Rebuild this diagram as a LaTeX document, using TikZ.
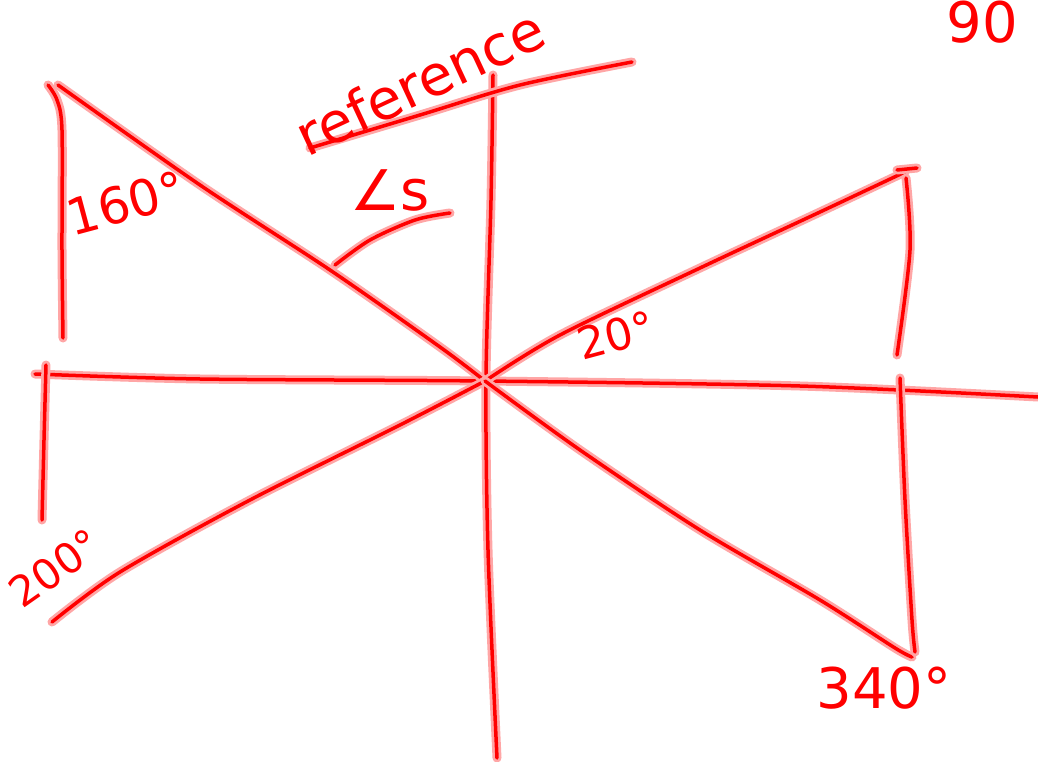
\documentclass[tikz,border=0pt]{standalone}
\usepackage{fontspec}
\setmainfont{DejaVu Sans}
\begin{document}
\begin{tikzpicture}[x=1pt,y=-1pt,
  pen/.style={draw=red, line width=3.5pt, line cap=round, line join=round,
    preaction={draw=red!35, line width=9pt, line cap=round, line join=round}},
  lbl/.style={text=red, inner sep=0pt},
]
\useasboundingbox[fill=white] (0,0) rectangle (1038,762);
\coordinate (O) at (485,381);
% axes
\draw[pen] plot[smooth] coordinates {(35,374) (200,379) (485,381) (800,386) (1038,397)};
\draw[pen] plot[smooth] coordinates {(493,75) (491,200) (486,378) (488,550) (497,758)};
% 160 ray and its drop
\draw[pen] plot[smooth] coordinates {(58,85) (200,185) (330,270) (440,347) (O)};
\draw[pen] plot[smooth] coordinates {(48,85) (57,100) (62,130) (62,250) (63,338)};
% 20 ray and its drop
\draw[pen] plot[smooth] coordinates {(O) (560,335) (700,268) (820,212) (905,172)};
\draw[pen] (897,170) -- (917,168);
\draw[pen] plot[smooth] coordinates {(906,178) (910,250) (897,355)};
% 200 ray and its drop
\draw[pen] plot[smooth] coordinates {(O) (400,425) (250,500) (120,572) (52,622)};
\draw[pen] plot[smooth] coordinates {(46,365) (44,440) (42,520)};
% 340 ray and its drop
\draw[pen] plot[smooth] coordinates {(O) (580,450) (700,530) (820,600) (895,648) (912,657)};
\draw[pen] plot[smooth] coordinates {(900,378) (905,500) (912,620) (915,652)};
% reference underline arcs
\draw[pen] plot[smooth] coordinates {(310,148) (420,115) (520,85) (632,62)};
\draw[pen] plot[smooth] coordinates {(335,265) (370,240) (415,220) (450,213)};
% labels
\node[lbl, rotate=25, font=\fontsize{56}{60}\selectfont] (ref) at (420,82) {reference};
\node[lbl, font=\fontsize{56}{60}\selectfont] (ang) at (390,190) {∠s};
\node[lbl, rotate=15, font=\fontsize{50}{56}\selectfont] (l160) at (126,203) {160°};
\node[lbl, rotate=15, font=\fontsize{44}{50}\selectfont] (l20) at (616,335) {20°};
\node[lbl, rotate=35, font=\fontsize{42}{48}\selectfont] (l200) at (55,568) {200°};
\node[lbl, font=\fontsize{56}{60}\selectfont] (l90) at (982,22) {90};
\node[lbl, font=\fontsize{56}{60}\selectfont] (l340) at (884,688) {340°};
\end{tikzpicture}
\end{document}
